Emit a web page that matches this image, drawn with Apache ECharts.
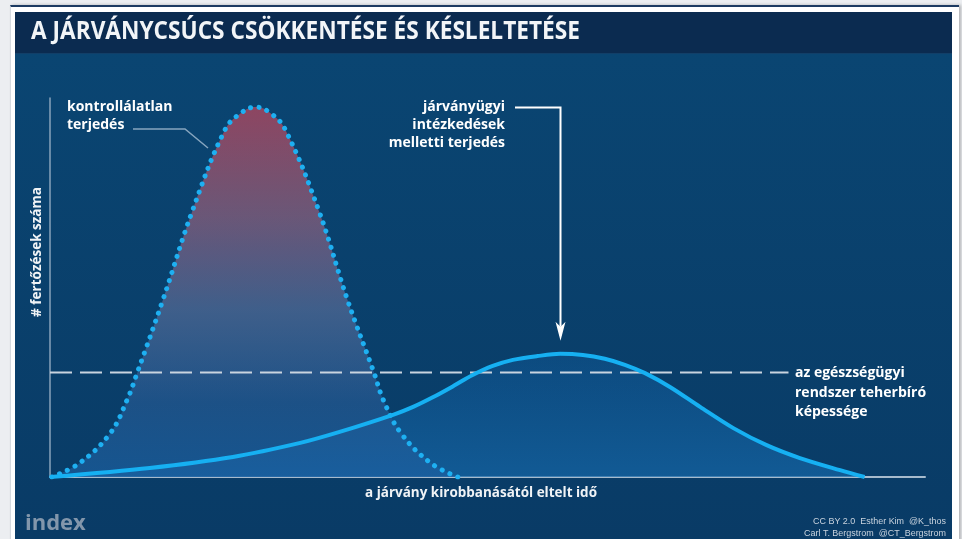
<!DOCTYPE html>
<html>
<head>
<meta charset="utf-8">
<script src="https://cdn.jsdelivr.net/npm/echarts@6/dist/echarts.min.js"></script>
<style>
    html, body { margin: 0; padding: 0; background: #eceef1; }
    .frame { position: absolute; left: 10px; top: 5px; width: 948px; height: 540px; background: #fff;
        border-top: 2px solid #1d3b62; border-left: 1px solid #d5dae0; box-shadow: 2px 0 3px rgba(0,0,0,0.25); }
    .panel { position: absolute; left: 15px; top: 12px; width: 937px; height: 527px;
        background: linear-gradient(#0a4673, #093b66); }
    .band { position: absolute; left: 15px; top: 12px; width: 937px; height: 41px; background: #0b2b50;
        border-bottom: 1px solid #123f68; }
    #chart { position: absolute; left: 0; top: 0; width: 962px; height: 539px; }
</style>
</head>
<body>
<div class="frame"></div>
<div class="panel"></div>
<div class="band"></div>
<div id="chart"></div>
<script>
// idő (x) és fertőzések (y)
const redTime = [0.2, 3.4, 6.9, 8.8, 10.0, 12.9, 16.3, 20.0, 21.8, 23.5, 25.2, 26.9, 30.7, 34.0, 37.0, 38.1, 40.1, 43.5, 46.6]
const redCases = [0, 3.7, 11.6, 20.3, 27.7, 46.7, 70.4, 91.6, 96.0, 97.6, 96.0, 91.6, 70.4, 46.7, 27.7, 20.3, 11.6, 3.7, 0]

const blueTime = [0, 11.4, 20.9, 28.6, 33.1, 39.2, 41.5, 43.8, 46.1, 48.3, 50.6, 52.9, 55.7, 58.3, 60.9, 63.4, 65.7, 68.0, 70.9, 74.3, 78.1, 81.9, 85.7, 90.3, 93.1]
const blueCases = [0, 2.4, 5.3, 9.0, 11.9, 16.4, 18.5, 21.1, 24.0, 26.9, 29.3, 30.9, 31.9, 32.5, 32.2, 31.2, 29.6, 27.4, 23.7, 18.5, 12.9, 8.4, 5.0, 1.8, 0]

const capacityLevel = 27.6
const capacityRange = [0, 84.4]

const title = 'A JÁRVÁNYCSÚCS CSÖKKENTÉSE ÉS KÉSLELTETÉSE'
const yAxisName = '# fertőzések száma'
const xAxisName = 'a járvány kirobbanásától eltelt idő'
const redLabel = 'kontrollálatlan\nterjedés'
const blueLabel = 'járványügyi\nintézkedések\nmelletti terjedés'
const capacityLabel = 'az egészségügyi\nrendszer teherbíró\nképessége'
const credits = ['CC BY 2.0  Esther Kim  @K_thos', 'Carl T. Bergstrom  @CT_Bergstrom']

const zip = (xs, ys) => xs.map((x, i) => [x, ys[i]])
const bold = (size, family) => 'bold ' + size + 'px ' + family

const ctx = document.createElement('canvas').getContext('2d')
const measure = (str, font) => {
    ctx.font = font
    return ctx.measureText(str).width
}

const chart = echarts.init(document.getElementById('chart'))

const option = {
    backgroundColor: 'transparent',
    animation: false,
    grid: { left: 50, right: 37, top: 98, bottom: 62 },
    xAxis: {
        type: 'value', min: 0, max: 100,
        axisLine: { show: true, lineStyle: { color: '#a7bbcd', width: 2 } },
        axisTick: { show: false }, axisLabel: { show: false }, splitLine: { show: false }
    },
    yAxis: {
        type: 'value', min: 0, max: 100,
        axisLine: { show: true, lineStyle: { color: '#88a3bb', width: 1.5 } },
        axisTick: { show: false }, axisLabel: { show: false }, splitLine: { show: false }
    },
    series: [
        {
            // kék görbe alatti terület
            type: 'line', data: zip(blueTime, blueCases), smooth: 0.3, symbol: 'none',
            lineStyle: { width: 0 },
            areaStyle: {
                color: new echarts.graphic.LinearGradient(0, 0, 0, 1, [
                    { offset: 0, color: '#0e5088' },
                    { offset: 1, color: '#1667a8' }
                ])
            }
        },
        {
            // kontrollálatlan terjedés
            type: 'line', data: zip(redTime, redCases), smooth: 0.4, symbol: 'none',
            lineStyle: { color: '#1eb0f2', width: 5, type: [0.1, 8.4], cap: 'round' },
            areaStyle: {
                color: new echarts.graphic.LinearGradient(0, 0, 0, 1, [
                    { offset: 0, color: '#c6475a' },
                    { offset: 0.3, color: '#93607c' },
                    { offset: 0.55, color: '#566c98' },
                    { offset: 0.8, color: '#255a93' },
                    { offset: 1, color: '#1c60a1' }
                ])
            }
        },
        {
            // egészségügyi kapacitás
            type: 'line', data: [[capacityRange[0], capacityLevel], [capacityRange[1], capacityLevel]],
            symbol: 'none',
            lineStyle: { color: '#c9d4df', width: 2, type: [22, 8] }
        },
        {
            // intézkedések melletti terjedés
            type: 'line', data: zip(blueTime, blueCases), smooth: 0.3, symbol: 'none',
            lineStyle: { color: '#16b0f2', width: 4 }
        }
    ]
}
chart.setOption(option)

// nyíl a kék csúcshoz
const peakIdx = blueCases.indexOf(Math.max(...blueCases))
const peak = chart.convertToPixel({ gridIndex: 0 }, [blueTime[peakIdx], blueCases[peakIdx]])
const ax = Math.round(peak[0]) + 0.5
const tipY = peak[1] - 13

const text = (str, x, y, font, align, fill, extra, width) => {
    const el = {
        type: 'text', z: 10, x: x, y: y,
        style: Object.assign({
            text: str, x: 0, y: 0, font: font, fill: fill || '#ffffff',
            align: align, textAlign: align, verticalAlign: 'middle', textVerticalAlign: 'middle'
        }, extra || {})
    }
    if (width) {
        el.scaleX = width / measure(str, font)
    }
    return el
}

const titleFont = bold(25, '"Open Sans"')
const xNameFont = bold(15, '"Open Sans"')
const creditFont = '9.5px "Liberation Sans"'

chart.setOption({
    graphic: [
        text(title, 31, 32, titleFont, 'left', '#f2f5f8', null, 549),
        text(xAxisName, 481, 493, xNameFont, 'center', '#f0f3f6', null, 232),
        Object.assign(text(yAxisName, 37, 252, bold(13.5, '"Open Sans"'), 'center', '#f0f3f6'),
            { rotation: Math.PI / 2 }),
        text(redLabel, 67, 116, bold(14, '"Open Sans"'), 'left', '#ffffff', { lineHeight: 18 }),
        text(blueLabel, 505, 125, bold(14, '"Open Sans"'), 'right', '#ffffff', { lineHeight: 18 }),
        text(capacityLabel, 795, 393, bold(14, '"Open Sans"'), 'left', '#ffffff', { lineHeight: 19.5 }),
        text('index', 25, 524, bold(22, '"Open Sans"'), 'left', '#8296ab'),
        text(credits[0], 946, 521, creditFont, 'right', '#c9d3de', null, 133),
        text(credits[1], 946, 533, creditFont, 'right', '#c9d3de', null, 142),
        {
            type: 'polyline', z: 10,
            shape: { points: [[133, 129], [185, 129], [208, 148]] },
            style: { stroke: '#86a5bf', lineWidth: 1.5, fill: null }
        },
        {
            type: 'polyline', z: 10,
            shape: { points: [[515, 107.5], [ax, 107.5], [ax, tipY - 14]] },
            style: { stroke: '#ffffff', lineWidth: 2, fill: null }
        },
        {
            type: 'polygon', z: 10,
            shape: { points: [[ax - 5, tipY - 19], [ax, tipY - 14], [ax + 5, tipY - 19], [ax, tipY]] },
            style: { fill: '#ffffff' }
        }
    ]
})
</script>
</body>
</html>
